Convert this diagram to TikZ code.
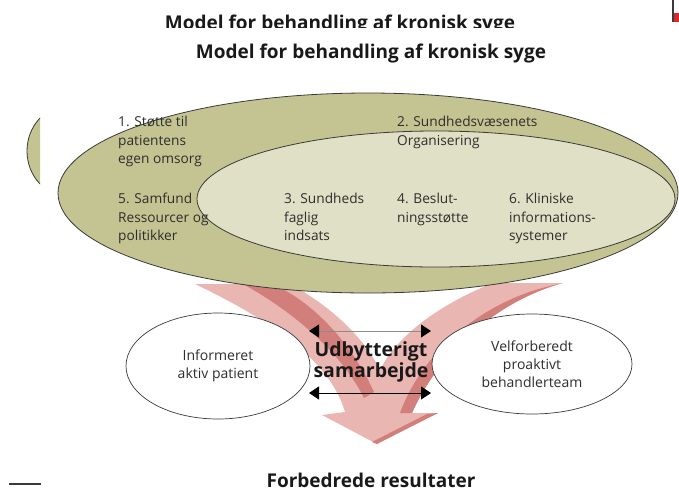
\documentclass[tikz,border=0pt]{standalone}
\usepackage{fontspec}
\setmainfont{Open Sans}
\usetikzlibrary{arrows.meta,shapes.geometric}
\definecolor{oliveouter}{HTML}{C4C492}
\definecolor{olivelight}{HTML}{DFE0C5}
\definecolor{pinklight}{HTML}{E9B6B1}
\definecolor{pinkdark}{HTML}{D27E7A}
\definecolor{inkline}{HTML}{3A3A3A}
\definecolor{inktext}{HTML}{2E2E2E}
\definecolor{marker}{HTML}{D42B2B}
\tikzset{
  ring/.style={draw=inkline,line width=0.8pt},
  field/.style={anchor=north west,inner sep=0pt,align=left,text=inktext,
    font=\fontsize{13.7}{18.5}\selectfont},
  party/.style={ellipse,draw=inkline,line width=0.7pt,fill=white,inner sep=0pt,
    align=center,text=inktext,font=\fontsize{14}{18}\selectfont},
  headline/.style={inner sep=0pt,text=black!90,font=\fontsize{19}{22}\selectfont\bfseries},
  collab/.style={inner sep=0pt,align=center,text=black!90,
    font=\fontsize{19.5}{20.5}\selectfont\bfseries},
  twoway/.style={line width=0.8pt,
    {Triangle[length=10pt,width=13pt,color=black]}-{Triangle[length=10pt,width=13pt,color=black]}}
}
\begin{document}
\begin{tikzpicture}[x=1pt,y=-1pt]
\useasboundingbox (0,0) rectangle (679,491);
\begin{scope}
  \clip (0,0) rectangle (679,27);
  \node [headline,anchor=north] (ghost) at (340,15) {Model for behandling af kronisk syge};
\end{scope}
\draw [inkline,line width=1.2pt] (673,0) -- (673,22);
\fill [marker] (674,13) rectangle (679,22);
\draw [inkline,line width=1.2pt] (9,484) -- (41,484);
\node [headline] (title) at (371,54) {Model for behandling af kronisk syge};
\begin{scope}
  \clip (0,100) rectangle (40,200);
  \draw [ring,fill=oliveouter] (70,151) ellipse [x radius=43pt,y radius=46pt];
\end{scope}
\fill [pinklight] (195,284) .. controls (270,320) and (330,360) .. (345,412) -- (322,415)
  -- (375,443) -- (438,413) -- (412,413) .. controls (440,350) and (500,300) .. (563,283)
  -- (493,283) .. controls (450,300) and (400,330) .. (380,370)
  .. controls (360,330) and (320,300) .. (290,284) -- cycle;
\fill [pinkdark] (243,284) .. controls (290,310) and (340,350) .. (364,398) -- (374,392)
  .. controls (350,340) and (310,300) .. (272,284) -- cycle;
\fill [pinkdark] (563,283) .. controls (500,300) and (440,350) .. (412,413) -- (400,413)
  .. controls (425,345) and (490,300) .. (550,286) -- cycle;
\fill [pinkdark] (438,413) -- (377,444) -- (372,442) -- (427,414) -- cycle;
\draw [ring,fill=oliveouter] (368,193) ellipse [x radius=310pt,y radius=100pt];
\draw [ring,fill=olivelight] (436,199) ellipse [x radius=239pt,y radius=68pt];
\node [field] (f1) at (118,116) {1. Støtte til\\patientens\\egen omsorg};
\node [field] (f2) at (397,116) {2. Sundhedsvæsenets\\Organisering};
\node [field] (f3) at (284,193) {3. Sundheds\\faglig\\indsats};
\node [field] (f4) at (397,193) {4. Beslut-\\ningsstøtte};
\node [field] (f5) at (118,193) {5. Samfund\\Ressourcer og\\politikker};
\node [field] (f6) at (509,193) {6. Kliniske\\informations-\\systemer};
\node [party,minimum width=184pt,minimum height=106pt] (pat) at (218,366) {Informeret\\aktiv patient};
\node [party,minimum width=200pt,minimum height=100pt] (team) at (532,364) {Velforberedt\\proaktivt\\behandlerteam};
\node [collab] (collab) at (371,362) {Udbytterigt\\samarbejde};
\coordinate (upl) at (309,331);
\coordinate (upr) at (431,331);
\coordinate (lol) at (309,393);
\coordinate (lor) at (431,393);
\draw [twoway,draw=black!45] (upl) -- (upr);
\draw [twoway,draw=black] (lol) -- (lor);
\node [headline,anchor=base] (result) at (371,487) {Forbedrede resultater};
\end{tikzpicture}
\end{document}
